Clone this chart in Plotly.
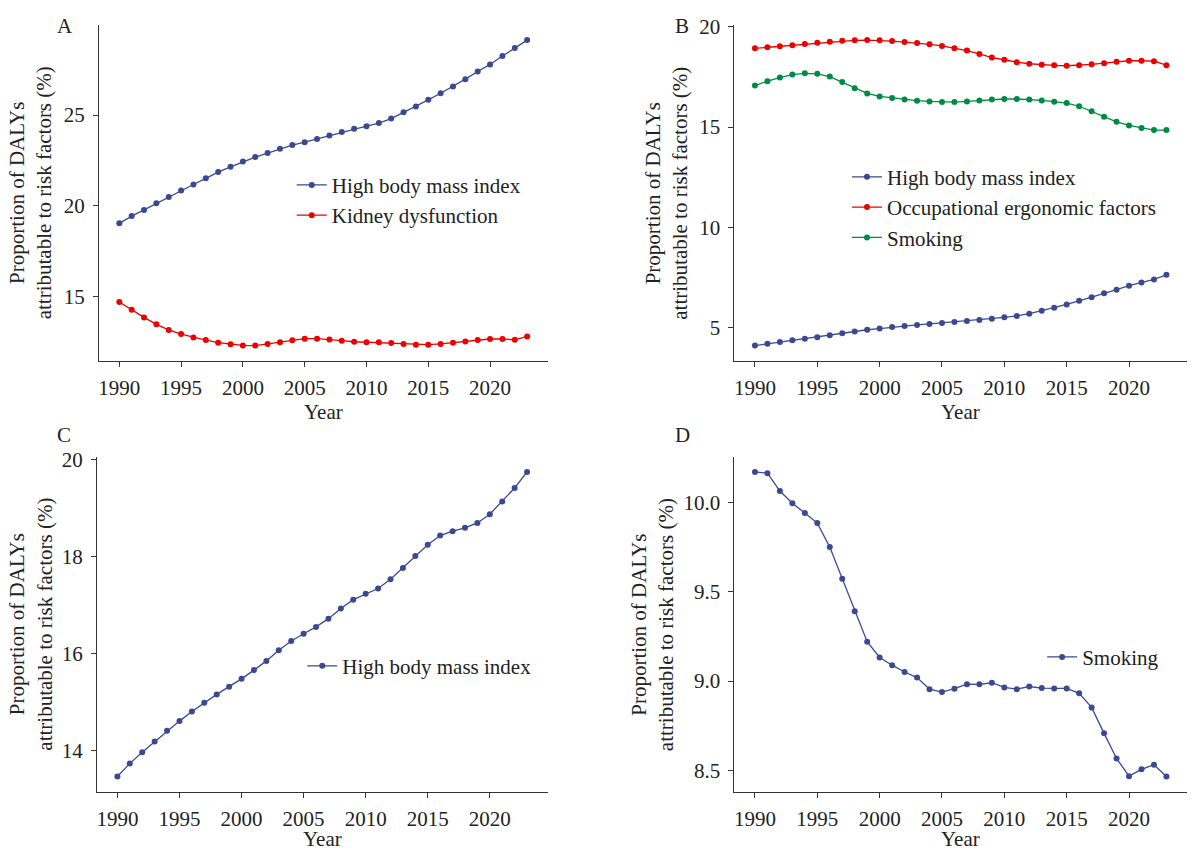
import plotly.graph_objects as go

# ---------------------------------------------------------------- data
years = list(range(1990, 2024))

# Panel A
a_bmi = [19.04, 19.44, 19.78, 20.14, 20.49, 20.85, 21.18, 21.52, 21.86, 22.15,
         22.44, 22.69, 22.91, 23.15, 23.35, 23.51, 23.69, 23.87, 24.07, 24.25,
         24.39, 24.56, 24.81, 25.15, 25.48, 25.84, 26.20, 26.58, 26.98, 27.40,
         27.79, 28.25, 28.70, 29.13]
a_kidney = [14.71, 14.28, 13.86, 13.48, 13.17, 12.94, 12.76, 12.61, 12.47, 12.38,
            12.32, 12.31, 12.40, 12.49, 12.60, 12.69, 12.69, 12.65, 12.58, 12.52,
            12.49, 12.49, 12.45, 12.40, 12.36, 12.36, 12.40, 12.47, 12.54, 12.61,
            12.67, 12.67, 12.63, 12.81]

# Panel B
b_bmi = [4.10, 4.19, 4.28, 4.36, 4.44, 4.52, 4.62, 4.72, 4.80, 4.89,
         4.95, 5.02, 5.08, 5.13, 5.18, 5.23, 5.28, 5.33, 5.38, 5.44,
         5.51, 5.58, 5.69, 5.84, 5.99, 6.15, 6.33, 6.51, 6.71, 6.89,
         7.09, 7.24, 7.40, 7.63]
b_occupational = [18.93, 18.98, 19.03, 19.08, 19.14, 19.21, 19.26, 19.31, 19.33, 19.34,
                  19.33, 19.29, 19.24, 19.19, 19.13, 19.05, 18.93, 18.82, 18.65, 18.47,
                  18.36, 18.24, 18.16, 18.11, 18.08, 18.06, 18.08, 18.13, 18.19, 18.26,
                  18.31, 18.31, 18.29, 18.09]
b_smoking = [17.07, 17.29, 17.47, 17.62, 17.68, 17.66, 17.52, 17.25, 16.94, 16.68,
             16.53, 16.45, 16.38, 16.32, 16.28, 16.25, 16.25, 16.28, 16.33, 16.37,
             16.40, 16.40, 16.38, 16.33, 16.27, 16.20, 16.04, 15.79, 15.51, 15.26,
             15.08, 14.95, 14.85, 14.85]

# Panel C
c_bmi = [13.47, 13.74, 13.97, 14.19, 14.41, 14.61, 14.81, 14.99, 15.16, 15.32,
         15.48, 15.66, 15.85, 16.07, 16.26, 16.41, 16.55, 16.72, 16.93, 17.11,
         17.23, 17.34, 17.53, 17.76, 18.01, 18.24, 18.43, 18.52, 18.59, 18.69,
         18.87, 19.13, 19.41, 19.74]

# Panel D
d_smoking = [10.169, 10.162, 10.062, 9.994, 9.939, 9.883, 9.750, 9.572, 9.390, 9.220,
             9.132, 9.089, 9.051, 9.020, 8.955, 8.939, 8.958, 8.983, 8.982, 8.991,
             8.965, 8.955, 8.970, 8.961, 8.959, 8.959, 8.932, 8.853, 8.708, 8.568,
             8.469, 8.507, 8.533, 8.467]

x_ticks = [1990, 1995, 2000, 2005, 2010, 2015, 2020]
a_ticks = [15, 20, 25]
b_ticks = [5, 10, 15, 20]
c_ticks = [14, 16, 18, 20]
d_ticks = [8.5, 9.0, 9.5, 10.0]

# ---------------------------------------------------------------- style
W, H = 1192, 853
FONT = "Liberation Serif"
INK = "#222222"
BLUE, RED, GREEN = "#3B4992", "#EE0000", "#008B45"
FS = 21

Y_TITLE = "Proportion of DALYs<br>attributable to risk factors (%)"


def fx(p):
    return p / W


def fy(p):
    return 1 - p / H


def expand(lo, hi, frac=0.05):
    span = hi - lo
    return [lo - frac * span, hi + frac * span]


panels = [
    dict(label="A", xpx=(98, 547), ypx=(15, 355), ticks=a_ticks, fmt="d",
         series=[("High body mass index", a_bmi, BLUE),
                 ("Kidney dysfunction", a_kidney, RED)],
         legend_px=(291, 192.5), label_px=(64, 16.5), ytitle_px=29.5),
    dict(label="B", xpx=(734, 1187), ypx=(15, 355), ticks=b_ticks, fmt="d",
         series=[("High body mass index", b_bmi, BLUE),
                 ("Occupational ergonomic factors", b_occupational, RED),
                 ("Smoking", b_smoking, GREEN)],
         legend_px=(846.7, 199.5), label_px=(682, 16.5), ytitle_px=666.5),
    dict(label="C", xpx=(96, 547), ypx=(452, 791), ticks=c_ticks, fmt="d",
         series=[("High body mass index", c_bmi, BLUE)],
         legend_px=(301.5, 664), label_px=(63, 430), ytitle_px=29.5),
    dict(label="D", xpx=(734, 1187), ypx=(452, 791), ticks=d_ticks, fmt=".1f",
         series=[("Smoking", d_smoking, BLUE)],
         legend_px=(1042, 655), label_px=(682.5, 430.5), ytitle_px=651.5),
]

fig = go.Figure()
annotations = []
layout = dict(
    width=W, height=H,
    margin=dict(l=0, r=0, t=0, b=0),
    paper_bgcolor="white", plot_bgcolor="white",
    font=dict(family=FONT, size=FS, color=INK),
    showlegend=True,
)

x_range = [years[0] - 0.05 * (years[-1] - years[0]),
           years[-1] + 0.05 * (years[-1] - years[0])]

for i, p in enumerate(panels, start=1):
    suffix = "" if i == 1 else str(i)
    legend_name = "legend" if i == 1 else f"legend{i}"

    all_vals = [v for _, vals, _ in p["series"] for v in vals]
    y_range = expand(min(all_vals), max(all_vals))

    for name, vals, color in p["series"]:
        fig.add_trace(go.Scatter(
            x=years, y=vals, name=name, mode="lines+markers",
            line=dict(color=color, width=1.3),
            marker=dict(color=color, size=6),
            xaxis=f"x{suffix}", yaxis=f"y{suffix}",
            legend=legend_name,
        ))

    axis_common = dict(
        showline=True, linecolor="#333333", linewidth=1.1,
        ticks="outside", ticklen=5, tickwidth=1.1, tickcolor="#333333",
        showgrid=False, zeroline=False,
        tickfont=dict(family=FONT, size=FS, color=INK),
    )
    layout[f"xaxis{suffix}"] = dict(
        axis_common,
        domain=[fx(p["xpx"][0]), fx(p["xpx"][1])],
        range=x_range, tickvals=x_ticks,
        anchor=f"y{suffix}", ticklabelstandoff=3,
    )
    layout[f"yaxis{suffix}"] = dict(
        axis_common,
        domain=[fy(p["ypx"][1]), fy(p["ypx"][0])],
        range=y_range, tickvals=p["ticks"], tickformat=p["fmt"],
        anchor=f"x{suffix}", ticklabelstandoff=4,
    )
    layout[legend_name] = dict(
        x=fx(p["legend_px"][0]), y=fy(p["legend_px"][1]),
        xanchor="left", yanchor="middle",
        bgcolor="rgba(0,0,0,0)", borderwidth=0,
        font=dict(family=FONT, size=FS, color=INK),
        tracegroupgap=0, itemwidth=30,
    )

    # panel letter
    annotations.append(dict(
        text=p["label"], x=fx(p["label_px"][0]), y=fy(p["label_px"][1]),
        xref="paper", yref="paper", xanchor="center", yanchor="middle",
        showarrow=False, font=dict(family=FONT, size=FS, color=INK),
    ))
    # y-axis title
    annotations.append(dict(
        text=Y_TITLE, textangle=-90,
        x=fx(p["ytitle_px"]), y=fy((p["ypx"][0] + p["ypx"][1]) / 2),
        xref="paper", yref="paper", xanchor="center", yanchor="middle",
        showarrow=False, font=dict(family=FONT, size=FS, color=INK),
    ))
    # x-axis title (bottom row sits flush with the page edge)
    title_y = p["ypx"][1] + 51.5
    if title_y + 14 > H:
        ann_y, ann_anchor = 0, "bottom"
    else:
        ann_y, ann_anchor = fy(title_y), "middle"
    annotations.append(dict(
        text="Year",
        x=fx((p["xpx"][0] + p["xpx"][1]) / 2), y=ann_y,
        xref="paper", yref="paper", xanchor="center", yanchor=ann_anchor,
        showarrow=False, font=dict(family=FONT, size=FS, color=INK),
    ))

layout["annotations"] = annotations
fig.update_layout(**layout)
fig.write_html("out.html")
